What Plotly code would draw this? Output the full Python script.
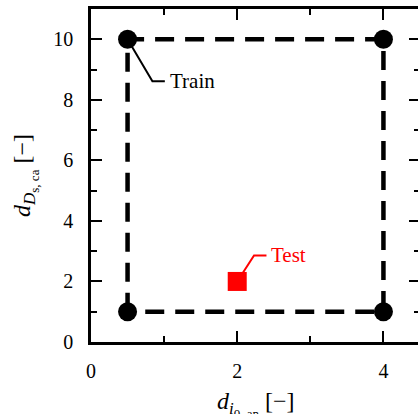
import plotly.graph_objects as go

# ---- data ----
train_x = [0.5, 0.5, 4.0, 4.0]
train_y = [1.0, 10.0, 10.0, 1.0]
test_x = [2.0]
test_y = [2.0]
x_ticks = [0, 2, 4]
y_ticks = [0, 2, 4, 6, 8, 10]
train_label = "Train"
test_label = "Test"

FONT = "Liberation Serif, Times New Roman, serif"

# closed rectangle through the training points
box_x = train_x + [train_x[0]]
box_y = train_y + [train_y[0]]

fig = go.Figure()

# leader lines (elbow) for labels, relative to the labelled point
tr_i = 1  # top-left train point
tr_elbow = (train_x[tr_i] + 0.34, train_y[tr_i] - 1.39)
tr_end = (tr_elbow[0] + 0.17, tr_elbow[1])
fig.add_trace(go.Scatter(
    x=[train_x[tr_i], tr_elbow[0], tr_end[0]],
    y=[train_y[tr_i], tr_elbow[1], tr_end[1]],
    mode="lines", line=dict(color="black", width=2),
    hoverinfo="skip", showlegend=False))

te_elbow = (test_x[0] + 0.23, test_y[0] + 0.86)
te_end = (te_elbow[0] + 0.17, te_elbow[1])
fig.add_trace(go.Scatter(
    x=[test_x[0], te_elbow[0], te_end[0]],
    y=[test_y[0], te_elbow[1], te_end[1]],
    mode="lines", line=dict(color="red", width=2),
    hoverinfo="skip", showlegend=False))

# dashed box
fig.add_trace(go.Scatter(
    x=box_x, y=box_y, mode="lines",
    line=dict(color="black", width=4.5, dash="19px,11px"),
    hoverinfo="skip", showlegend=False))

# train markers
fig.add_trace(go.Scatter(
    x=train_x, y=train_y, mode="markers",
    marker=dict(color="black", size=19, symbol="circle"),
    name=train_label, showlegend=False))

# test marker
fig.add_trace(go.Scatter(
    x=test_x, y=test_y, mode="markers",
    marker=dict(color="red", size=19, symbol="square"),
    name=test_label, showlegend=False))

fig.add_annotation(x=tr_end[0], y=tr_end[1], text=train_label, showarrow=False,
                   xanchor="left", yanchor="middle", xshift=3,
                   font=dict(family=FONT, size=21, color="black"))
fig.add_annotation(x=te_end[0], y=te_end[1], text=test_label, showarrow=False,
                   xanchor="left", yanchor="middle", xshift=3,
                   font=dict(family=FONT, size=21, color="red"))

axis_common = dict(
    showline=True, linecolor="black", linewidth=2.5, mirror="ticks",
    ticks="inside", ticklen=11, tickwidth=2, tickcolor="black",
    showgrid=False, zeroline=False,
    tickfont=dict(family=FONT, size=20, color="black"),
)

def title_html(main, sub1, sub2):
    return ("<i>%s</i><sub><span style=\"font-size:17px\"><i>%s</i></span>"
            "<sub><span style=\"font-size:13px\">%s</span></sub></sub> [−]" % (main, sub1, sub2))

fig.update_xaxes(
    range=[0, 4.5], tickvals=x_ticks, ticktext=[str(v) for v in x_ticks],
    minor=dict(tickvals=[1, 3], ticks="inside", ticklen=6, tickwidth=2, tickcolor="black"),
    ticklabelstandoff=9,
    **axis_common)
fig.update_yaxes(
    range=[0, 11], tickvals=y_ticks, ticktext=[str(v) for v in y_ticks],
    minor=dict(tickvals=[1, 3, 5, 7, 9], ticks="inside", ticklen=6, tickwidth=2, tickcolor="black"),
    ticklabelstandoff=11,
    title=dict(text=title_html("d", "D", "s, ca"),
               font=dict(family=FONT, size=24, color="black"), standoff=16),
    **axis_common)

# x-axis title (as annotation so it may run past the bottom edge like the original)
fig.add_annotation(xref="paper", yref="paper", x=0.5, y=0, xanchor="center", yanchor="top",
                   yshift=-44, showarrow=False, text=title_html("d", "i", "0, an"),
                   font=dict(family=FONT, size=24, color="black"))

fig.update_layout(
    width=426, height=414,
    margin=dict(l=91, r=3, t=9, b=72),
    plot_bgcolor="white", paper_bgcolor="white",
    font=dict(family=FONT),
)

fig.write_html("out.html", config={"displayModeBar": False},
               post_script="document.body.style.margin='0';"
                           "document.body.style.overflow='hidden';"
                           "document.documentElement.style.overflow='hidden';")
